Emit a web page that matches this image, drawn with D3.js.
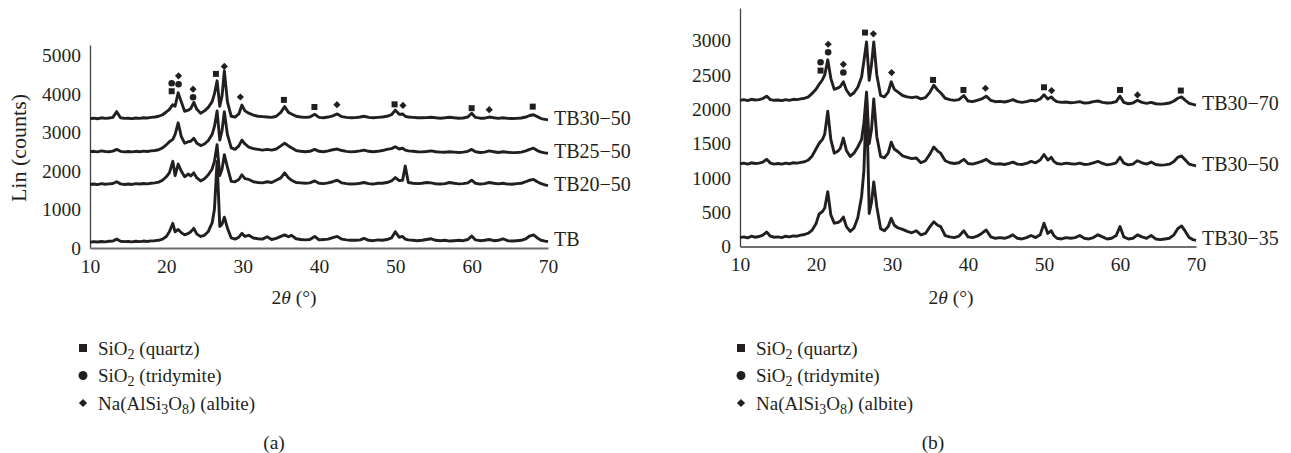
<!DOCTYPE html>
<html>
<head>
<meta charset="utf-8">
<script src="https://cdn.jsdelivr.net/npm/d3@7"></script>
<style>
  body { margin: 0; background: #fff; }
  text { font-family: 'Liberation Serif', 'Times New Roman', serif; fill: #231f20; }
</style>
</head>
<body>
<div id="main"></div>
<script>
// 2theta sampling positions (degrees), shared by every pattern
var twoTheta = [
  10, 10.5, 11, 11.5, 12, 12.5, 13, 13.5, 14, 14.5,
  15, 15.5, 16, 16.5, 17, 17.5, 18, 18.5, 19, 19.5,
  20, 20.4, 20.85, 21.15, 21.55, 21.95, 22.4, 22.9, 23.2, 23.6,
  24.0, 24.5, 25.0, 25.5, 26.0, 26.3, 26.65, 27.0, 27.3, 27.6,
  28.0, 28.5, 29.0, 29.5, 29.9, 30.3, 30.8, 31.4, 32.0, 32.6,
  33.2, 33.8, 34.4, 35.0, 35.5, 36.0, 36.4, 37.0, 37.6, 38.2,
  38.8, 39.45, 40.0, 40.6, 41.2, 41.8, 42.4, 43.0, 43.6, 44.2,
  44.8, 45.4, 45.9, 46.5, 47.1, 47.7, 48.3, 48.9, 49.5, 50.0,
  50.5, 50.95, 51.3, 51.7, 52.3, 52.9, 53.5, 54.1, 54.7, 55.3,
  55.9, 56.5, 57.1, 57.7, 58.3, 58.9, 59.5, 60.0, 60.5, 61.1,
  61.7, 62.3, 62.9, 63.5, 64.1, 64.7, 65.3, 65.9, 66.5, 67.1,
  67.6, 68.1, 68.6, 69.1, 69.6, 70
]

// panel (a), Lin (counts)
var tb3050a = [
  3360, 3370, 3355, 3380, 3365, 3375, 3390, 3540, 3380, 3365,
  3370, 3360, 3375, 3365, 3380, 3375, 3390, 3400, 3420, 3460,
  3530, 3600, 3720, 3680, 4030, 3800, 3550, 3580, 3620, 3780,
  3600, 3500, 3560, 3650, 3800, 4000, 4340, 3680, 3950, 4600,
  3800, 3420, 3400, 3480, 3710, 3560, 3500, 3450, 3420, 3410,
  3400, 3390, 3420, 3520, 3670, 3520, 3480, 3420, 3400, 3390,
  3400, 3470, 3390, 3380, 3400, 3430, 3480, 3410, 3390, 3380,
  3385, 3400, 3420, 3390, 3380, 3390, 3400, 3420, 3460, 3580,
  3470, 3480, 3420, 3400, 3390, 3380, 3380, 3385, 3395, 3380,
  3370, 3380, 3395, 3380, 3370, 3375, 3400, 3500, 3390, 3370,
  3370, 3400, 3380, 3365, 3380, 3365, 3360, 3365, 3375, 3400,
  3440, 3460, 3410, 3360, 3340, 3325
]
var tb2550 = [
  2500, 2510, 2495, 2520, 2505, 2500, 2515, 2560, 2510, 2495,
  2505, 2495, 2510, 2500, 2515, 2505, 2520, 2530, 2550, 2600,
  2680, 2760, 2820, 2950, 3250, 2900, 2720, 2760, 2770, 2850,
  2720, 2660, 2700, 2790, 2950, 3150, 3560, 2800, 3050, 3540,
  2950, 2600, 2560, 2650, 2800, 2700, 2620, 2580, 2560, 2540,
  2560, 2540, 2570, 2650, 2720, 2650, 2600, 2530, 2510, 2500,
  2510, 2560, 2510, 2500, 2520, 2550, 2570, 2530, 2510, 2495,
  2505, 2520, 2540, 2510, 2500, 2510, 2530, 2560, 2580, 2630,
  2570, 2590, 2540, 2520, 2510, 2500, 2495, 2505, 2520, 2500,
  2490, 2485, 2500, 2490, 2480, 2490, 2510, 2560, 2500, 2480,
  2490, 2520, 2500, 2480, 2500, 2485, 2475, 2480, 2490, 2520,
  2560, 2590, 2530, 2490, 2470, 2460
]
var tb2050 = [
  1650, 1660, 1645, 1670, 1655, 1665, 1675, 1720, 1665, 1650,
  1660, 1650, 1670, 1660, 1675, 1665, 1680, 1690, 1710, 1760,
  1850, 1950, 2250, 1880, 2180, 2000, 1850, 1920, 1870, 1950,
  1820, 1740, 1800, 1900, 2050, 2250, 2680, 1880, 2050, 2420,
  2100, 1730, 1720, 1780, 1900, 1800, 1780, 1720, 1700, 1690,
  1720, 1700, 1760, 1820, 1950, 1820, 1760, 1700, 1690, 1680,
  1690, 1740, 1680, 1670, 1690, 1720, 1760, 1690, 1670, 1660,
  1665, 1680, 1700, 1670, 1660, 1680, 1680, 1700, 1740, 1830,
  1750, 1760, 2130, 1700, 1680, 1670, 1680, 1700, 1690, 1665,
  1660, 1670, 1700, 1680, 1665, 1670, 1690, 1760, 1680, 1660,
  1670, 1700, 1680, 1665, 1680, 1660, 1655, 1670, 1680, 1720,
  1760, 1780, 1720, 1670, 1640, 1620
]
var tb = [
  150, 165, 155, 170, 160, 175, 180, 230, 175, 165,
  170, 160, 175, 165, 180, 170, 185, 190, 200, 230,
  300, 420, 640, 420, 480, 400, 340, 380, 420, 510,
  360, 300, 330, 430, 650, 1000, 2250, 560, 620, 800,
  520, 260, 230, 280, 380, 300, 330, 260, 240, 230,
  290, 220, 250, 300, 340, 290, 330, 240, 220, 210,
  220, 300, 210, 220, 230, 270, 300, 230, 210, 200,
  200, 210, 250, 200, 190, 210, 200, 220, 260, 420,
  280, 300, 230, 210, 200, 190, 200, 220, 240, 200,
  190, 200, 180, 190, 200, 190, 220, 310, 210, 190,
  200, 220, 190, 200, 240, 190, 180, 190, 200, 240,
  310, 340, 260, 200, 180, 170
]

// panel (b), Lin (counts)
var tb3070 = [
  2130, 2140, 2125, 2145, 2135, 2140, 2155, 2190, 2140, 2130,
  2135, 2125, 2140, 2130, 2145, 2140, 2150, 2160, 2180, 2230,
  2290, 2360, 2430, 2500, 2720, 2450, 2290, 2310, 2330, 2400,
  2280, 2200, 2240, 2320, 2470, 2700, 2980, 2420, 2650, 2980,
  2500, 2200, 2180, 2250, 2400, 2290, 2250, 2200, 2180, 2170,
  2180, 2150, 2170, 2250, 2350, 2280, 2240, 2160, 2140, 2130,
  2140, 2200, 2120, 2110, 2130, 2150, 2190, 2130, 2110, 2115,
  2105, 2120, 2140, 2110, 2100, 2110, 2130, 2120, 2150, 2210,
  2150, 2180, 2140, 2110, 2100, 2105, 2095, 2100, 2110, 2090,
  2095, 2110, 2120, 2100, 2090, 2095, 2110, 2190, 2100, 2080,
  2090, 2130, 2100, 2085, 2100, 2080, 2075, 2080, 2090, 2120,
  2160, 2180, 2130, 2085, 2070, 2060
]
var tb3050b = [
  1205, 1215, 1200, 1220, 1210, 1215, 1230, 1270, 1215, 1200,
  1210, 1200, 1215, 1205, 1220, 1215, 1225, 1235, 1260, 1320,
  1420, 1500, 1560, 1640, 1970, 1560, 1360, 1390, 1430, 1580,
  1400, 1310, 1360, 1450, 1560, 1800, 2250, 1500, 1700, 2150,
  1600, 1310, 1290, 1360, 1520, 1420, 1380, 1320, 1300, 1280,
  1290, 1220, 1250, 1350, 1450, 1390, 1360, 1250, 1220, 1210,
  1220, 1270, 1210, 1200, 1220, 1240, 1270, 1220, 1200, 1205,
  1195, 1210, 1230, 1200, 1195, 1210, 1240, 1220, 1260, 1340,
  1260, 1300, 1240, 1210, 1200, 1215, 1205, 1200, 1215, 1195,
  1200, 1220, 1240, 1210, 1190, 1200, 1220, 1300, 1215, 1190,
  1200, 1250, 1220, 1200, 1230, 1195, 1185, 1190, 1200, 1240,
  1300, 1320, 1260, 1200, 1185, 1175
]
var tb3035 = [
  130, 140, 125, 150, 135, 145, 165, 210, 150, 135,
  140, 130, 150, 140, 155, 150, 165, 175, 195, 240,
  330, 470, 510, 560, 800, 460, 340, 350, 370, 430,
  290, 220, 270, 420, 730, 1100, 2200, 480, 640, 940,
  580, 260, 230, 290, 410, 310, 270, 250, 220, 200,
  230, 170, 190, 290, 360, 310, 290, 160, 140, 130,
  150, 230, 140, 130, 150, 190, 240, 140, 120, 130,
  120, 140, 170, 120, 110, 130, 160, 130, 170, 340,
  190, 230, 160, 120, 110, 130, 120, 130, 160, 120,
  110, 130, 170, 140, 110, 120, 160, 290, 140, 110,
  120, 170, 140, 120, 160, 110, 100, 110, 120, 170,
  260, 300, 220, 130, 100, 90
]

// phase markers [2theta, counts]
var quartzA = [[20.7, 4070], [26.5, 4520], [35.4, 3845], [39.4, 3660], [49.9, 3730], [60, 3630], [68, 3670]]
var tridymiteA = [[20.7, 4278], [21.6, 4252], [23.5, 3914]]
var albiteA = [[21.6, 4469], [23.5, 4122], [27.6, 4715], [29.7, 3920], [42.35, 3720], [51.0, 3700], [62.3, 3590]]

var quartzB = [[20.6, 2563], [26.45, 3117], [35.4, 2427], [39.4, 2281], [50.0, 2320], [60, 2281], [68, 2272]]
var tridymiteB = [[20.6, 2685], [21.6, 2830], [23.6, 2534]]
var albiteB = [[21.6, 2947], [23.6, 2655], [27.55, 3098], [29.95, 2534], [42.3, 2306], [51.0, 2272], [62.3, 2208]]

var xTicks = [10, 20, 30, 40, 50, 60, 70]
var yTicksA = [0, 1000, 2000, 3000, 4000, 5000]
var yTicksB = [0, 500, 1000, 1500, 2000, 2500, 3000]

var ink = '#231f20'

var svg = d3.select('#main')
  .append('svg')
  .attr('width', 1291)
  .attr('height', 453)

var square = d3.symbol().type(d3.symbolSquare)
var circle = d3.symbol().type(d3.symbolCircle)

function drawMarker (sel, kind, big) {
  if (kind === 'quartz') sel.attr('d', square.size(big ? 64 : 36)())
  if (kind === 'tridymite') sel.attr('d', circle.size(big ? 62 : 34)())
  if (kind === 'albite') sel.attr('d', square.size(big ? 34 : 26)())
}

function panel (cfg) {
  var x = d3.scaleLinear().domain([10, 70]).range(cfg.xRange)
  var y = d3.scaleLinear().domain([0, cfg.yMax]).range(cfg.yRange)
  var g = svg.append('g')

  var ya = g.append('g')
    .attr('transform', `translate(${cfg.xRange[0]},0)`)
    .call(d3.axisLeft(y).tickValues(cfg.yTicks).tickSize(0).tickPadding(9).tickFormat(d3.format('d')))
    .attr('font-size', 19.5)
  ya.select('.domain').attr('stroke', '#414042').attr('stroke-width', 1.3)

  var xa = g.append('g')
    .attr('transform', `translate(0,${cfg.yRange[0]})`)
    .call(d3.axisBottom(x).tickValues(xTicks).tickSize(0).tickPadding(11))
    .attr('font-size', 19.5)
  xa.select('.domain').attr('stroke', '#6d6e71').attr('stroke-width', 2)

  var line = d3.line()
    .x((_, i) => x(twoTheta[i]))
    .y(d => y(d))

  g.selectAll('path.trace')
    .data(cfg.series)
    .enter()
    .append('path')
      .attr('class', 'trace')
      .attr('d', s => line(s.values))
      .attr('fill', 'none')
      .attr('stroke', ink)
      .attr('stroke-width', 2.9)
      .attr('stroke-linejoin', 'round')

  g.selectAll('text.name')
    .data(cfg.series)
    .enter()
    .append('text')
      .attr('class', 'name')
      .attr('x', cfg.xRange[1] + 6)
      .attr('y', s => y(s.values[s.values.length - 1]) - 2)
      .attr('dy', '0.35em')
      .attr('font-size', 20)
      .text(s => s.name)

  cfg.markers.forEach(function (m) {
    g.selectAll(null)
      .data(m.points)
      .enter()
      .append('path')
        .attr('transform', d => `translate(${x(d[0])},${y(d[1])})` + (m.kind === 'albite' ? ' rotate(45)' : ''))
        .attr('fill', ink)
        .call(drawMarker, m.kind, false)
  })

  // x axis title: 2θ (°)
  var t = g.append('text')
    .attr('x', cfg.titleX)
    .attr('y', 304)
    .attr('text-anchor', 'middle')
    .attr('font-size', 19.5)
  t.append('tspan').text('2')
  t.append('tspan').attr('font-style', 'italic').text('θ')
  t.append('tspan').text(' (°)')

  // legend
  var legend = [
    { kind: 'quartz', parts: ['SiO', '2', ' (quartz)'] },
    { kind: 'tridymite', parts: ['SiO', '2', ' (tridymite)'] },
    { kind: 'albite', parts: ['Na(AlSi', '3', 'O', '8', ') (albite)'] }
  ]
  var rows = g.selectAll('g.legend')
    .data(legend)
    .enter()
    .append('g')
      .attr('class', 'legend')
      .attr('transform', (_, i) => `translate(${cfg.legendX},${348 + i * 27.5})`)
  rows.append('path')
    .attr('transform', d => d.kind === 'albite' ? 'rotate(45)' : null)
    .attr('fill', ink)
    .each(function (d) { d3.select(this).call(drawMarker, d.kind, true) })
  rows.append('text')
    .attr('x', 15)
    .attr('y', 6.5)
    .attr('font-size', 19)
    .each(function (d) {
      var txt = d3.select(this)
      d.parts.forEach(function (p, i) {
        var sub = i % 2 === 1
        txt.append('tspan')
          .attr('dy', i === 0 ? null : (sub ? 4 : -4))
          .attr('font-size', sub ? 14 : null)
          .text(p)
      })
    })

  svg.append('text')
    .attr('x', cfg.captionX)
    .attr('y', 449)
    .attr('text-anchor', 'middle')
    .attr('font-size', 19.5)
    .text(cfg.caption)
}

svg.append('text')
  .attr('transform', 'translate(18,148) rotate(-90)')
  .attr('text-anchor', 'middle')
  .attr('dy', '0.35em')
  .attr('font-size', 22)
  .text('Lin (counts)')

panel({
  xRange: [90, 548],
  yRange: [248, 45],
  yMax: 5270,
  yTicks: yTicksA,
  series: [
    { name: 'TB30−50', values: tb3050a },
    { name: 'TB25−50', values: tb2550 },
    { name: 'TB20−50', values: tb2050 },
    { name: 'TB', values: tb }
  ],
  markers: [
    { kind: 'quartz', points: quartzA },
    { kind: 'tridymite', points: tridymiteA },
    { kind: 'albite', points: albiteA }
  ],
  titleX: 294,
  legendX: 83,
  captionX: 274,
  caption: '(a)'
})

panel({
  xRange: [740, 1196],
  yRange: [246.5, 8],
  yMax: 3475,
  yTicks: yTicksB,
  series: [
    { name: 'TB30−70', values: tb3070 },
    { name: 'TB30−50', values: tb3050b },
    { name: 'TB30−35', values: tb3035 }
  ],
  markers: [
    { kind: 'quartz', points: quartzB },
    { kind: 'tridymite', points: tridymiteB },
    { kind: 'albite', points: albiteB }
  ],
  titleX: 951,
  legendX: 741,
  captionX: 933,
  caption: '(b)'
})
</script>
</body>
</html>
